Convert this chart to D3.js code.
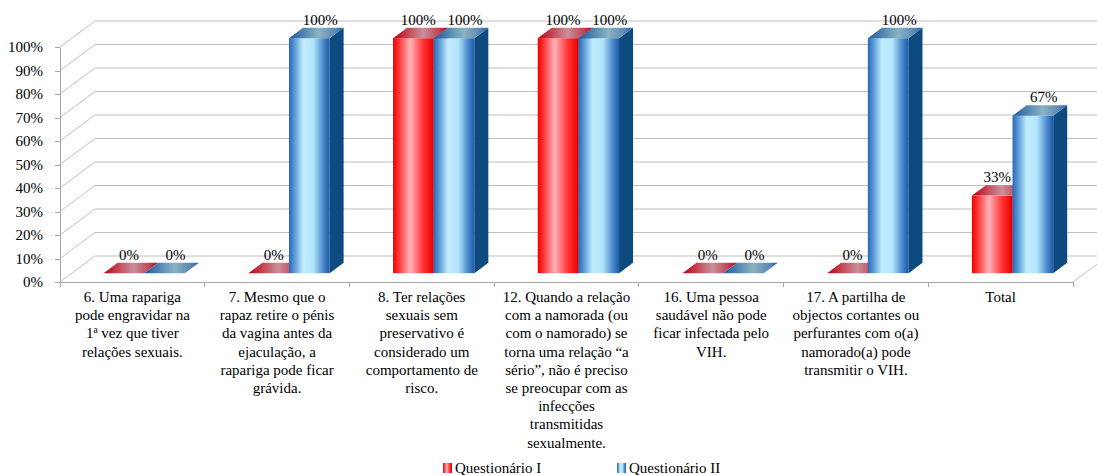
<!DOCTYPE html>
<html>
<head>
<meta charset="utf-8">
<script src="https://cdn.jsdelivr.net/npm/d3@7"></script>
</head>
<body style="margin:0">
<svg width="1097" height="475"></svg>
<script>
// data
var categories = ["c6", "c7", "c8", "c12", "c16", "c17", "total"];
var categoryLines = [
  ["6. Uma rapariga", "pode engravidar na", "1ª vez que tiver", "relações sexuais."],
  ["7. Mesmo que o", "rapaz retire o pénis", "da vagina antes da", "ejaculação, a", "rapariga pode ficar", "grávida."],
  ["8. Ter relações", "sexuais sem", "preservativo é", "considerado um", "comportamento de", "risco."],
  ["12. Quando a relação", "com a namorada (ou", "com o namorado) se", "torna uma relação “a", "sério”, não é preciso", "se preocupar com as", "infecções", "transmitidas", "sexualmente."],
  ["16. Uma pessoa", "saudável não pode", "ficar infectada pelo", "VIH."],
  ["17. A partilha de", "objectos cortantes ou", "perfurantes com o(a)", "namorado(a) pode", "transmitir o VIH."],
  ["Total"]
];
var seriesNames = ["Questionário I", "Questionário II"];
var questionario1 = [0, 0, 1, 1, 0, 0, 0.33];
var questionario2 = [0, 1, 1, 1, 0, 1, 0.67];
var yTicks = [0, 0.1, 0.2, 0.3, 0.4, 0.5, 0.6, 0.7, 0.8, 0.9, 1];

var svg = d3.select("svg");

// 3d depth of the box and of the bars
var DX = 35, DY = -26;
var fx = 0.34 * DX, fy = 0.34 * DY;
var bx = 0.40 * DX, by = 0.40 * DY;

var x = d3.scaleBand().domain(categories).range([60, 1073]);
var xs = d3.scaleBand().domain([0, 1]).range([0, x.bandwidth()]).paddingOuter(0.78);
var y = d3.scaleLinear().domain([0, 1]).range([282, 47]);
var fmt = d3.format(".0%");

var defs = svg.append("defs");
function grad(id, stops) {
  var g = defs.append("linearGradient").attr("id", id)
    .attr("x1", "0%").attr("x2", "100%").attr("y1", "0%").attr("y2", "0%");
  stops.forEach(function(s) {
    g.append("stop").attr("offset", s[0]).attr("stop-color", s[1]);
  });
}
grad("redFront", [[0, "#f00000"], [0.12, "#ff2a2a"], [0.42, "#ffb3ba"], [0.75, "#ff3030"], [1, "#e60000"]]);
grad("redTop", [[0, "#c00010"], [0.55, "#c8909a"], [0.85, "#c04050"], [1, "#b80010"]]);
grad("blueFront", [[0, "#2a66b8"], [0.15, "#5f9fd8"], [0.35, "#c2edff"], [0.6, "#b2e6fb"], [0.85, "#4a88cc"], [1, "#1e5aa8"]]);
grad("blueTop", [[0, "#1c5aa0"], [0.55, "#8ab2c2"], [0.85, "#5a88b4"], [1, "#2060a8"]]);

var fills = [
  { front: "url(#redFront)", top: "url(#redTop)", side: "#a00000", dlx: 5 },
  { front: "url(#blueFront)", top: "url(#blueTop)", side: "#0d4a80", dlx: 11 }
];

function label(sel) {
  return sel.style("font-family", "'Liberation Serif'").style("font-size", "15px").attr("fill", "#000");
}
function gridLine(g, x1, y1, x2, y2) {
  g.append("line").attr("x1", x1).attr("y1", y1).attr("x2", x2).attr("y2", y2)
    .attr("stroke", "#bfbfbf").attr("stroke-width", 1);
}

// walls: left wall lines and back wall lines
var grid = svg.append("g");
yTicks.forEach(function(v) {
  gridLine(grid, 60, y(v), 60 + DX, y(v) + DY);
  gridLine(grid, 60 + DX, y(v) + DY, 1073 + DX, y(v) + DY);
});
// floor right edge
gridLine(grid, 1073, y(0), 1073 + DX, y(0) + DY);

// y axis
var ya = svg.append("g")
  .attr("transform", "translate(60,0)")
  .call(d3.axisLeft(y).tickValues(yTicks).tickFormat(fmt).tickSize(5).tickSizeOuter(0).tickPadding(12));
ya.attr("font-family", null).attr("font-size", null);
ya.selectAll("path, line").attr("stroke", "#a6a6a6").attr("shape-rendering", "crispEdges");
label(ya.selectAll("text"));

// x axis line and boundary ticks
var xa = svg.append("g").attr("stroke", "#a6a6a6").attr("shape-rendering", "crispEdges");
xa.append("line").attr("x1", 60).attr("x2", 1073).attr("y1", y(0)).attr("y2", y(0));
categories.concat(["end"]).forEach(function(c, i) {
  var px = i < categories.length ? x(c) : x.range()[1];
  xa.append("line").attr("x1", px).attr("x2", px).attr("y1", y(0)).attr("y2", y(0) + 5);
});

// category labels
categories.forEach(function(c, i) {
  var t = label(svg.append("text"))
    .attr("text-anchor", "middle")
    .attr("x", x(c) + x.bandwidth() / 2)
    .attr("y", 302);
  categoryLines[i].forEach(function(line, j) {
    t.append("tspan").attr("x", x(c) + x.bandwidth() / 2).attr("dy", j === 0 ? 0 : 18.2).text(line);
  });
});

// bars
var bars = svg.append("g");
categories.forEach(function(c, i) {
  [questionario1[i], questionario2[i]].forEach(function(v, s) {
    var x0 = x(c) + xs(s) + fx;
    var w = xs.bandwidth();
    var yb = y(0) + fy;
    var yt = y(v) + fy;
    var f = fills[s];
    bars.append("rect")
      .attr("x", x0).attr("y", yt).attr("width", w).attr("height", yb - yt)
      .attr("fill", f.front);
    bars.append("path")
      .attr("d", "M" + (x0 + w) + "," + yt + "L" + (x0 + w + bx) + "," + (yt + by) +
                 "L" + (x0 + w + bx) + "," + (yb + by) + "L" + (x0 + w) + "," + yb + "Z")
      .attr("fill", f.side);
    bars.append("path")
      .attr("d", "M" + x0 + "," + yt + "L" + (x0 + w) + "," + yt +
                 "L" + (x0 + w + bx) + "," + (yt + by) + "L" + (x0 + bx) + "," + (yt + by) + "Z")
      .attr("fill", f.top);
    label(bars.append("text"))
      .attr("text-anchor", "middle")
      .attr("x", x0 + w / 2 + f.dlx)
      .attr("y", yt + by - 3)
      .text(fmt(v));
  });
});

// legend
var legendX = [443, 617];
seriesNames.forEach(function(name, s) {
  var g = svg.append("g").attr("transform", "translate(" + legendX[s] + ",463)");
  g.append("rect").attr("width", 9).attr("height", 10).attr("fill", fills[s].front);
  label(g.append("text")).attr("x", 12).attr("y", 10).text(name);
});
</script>
</body>
</html>
